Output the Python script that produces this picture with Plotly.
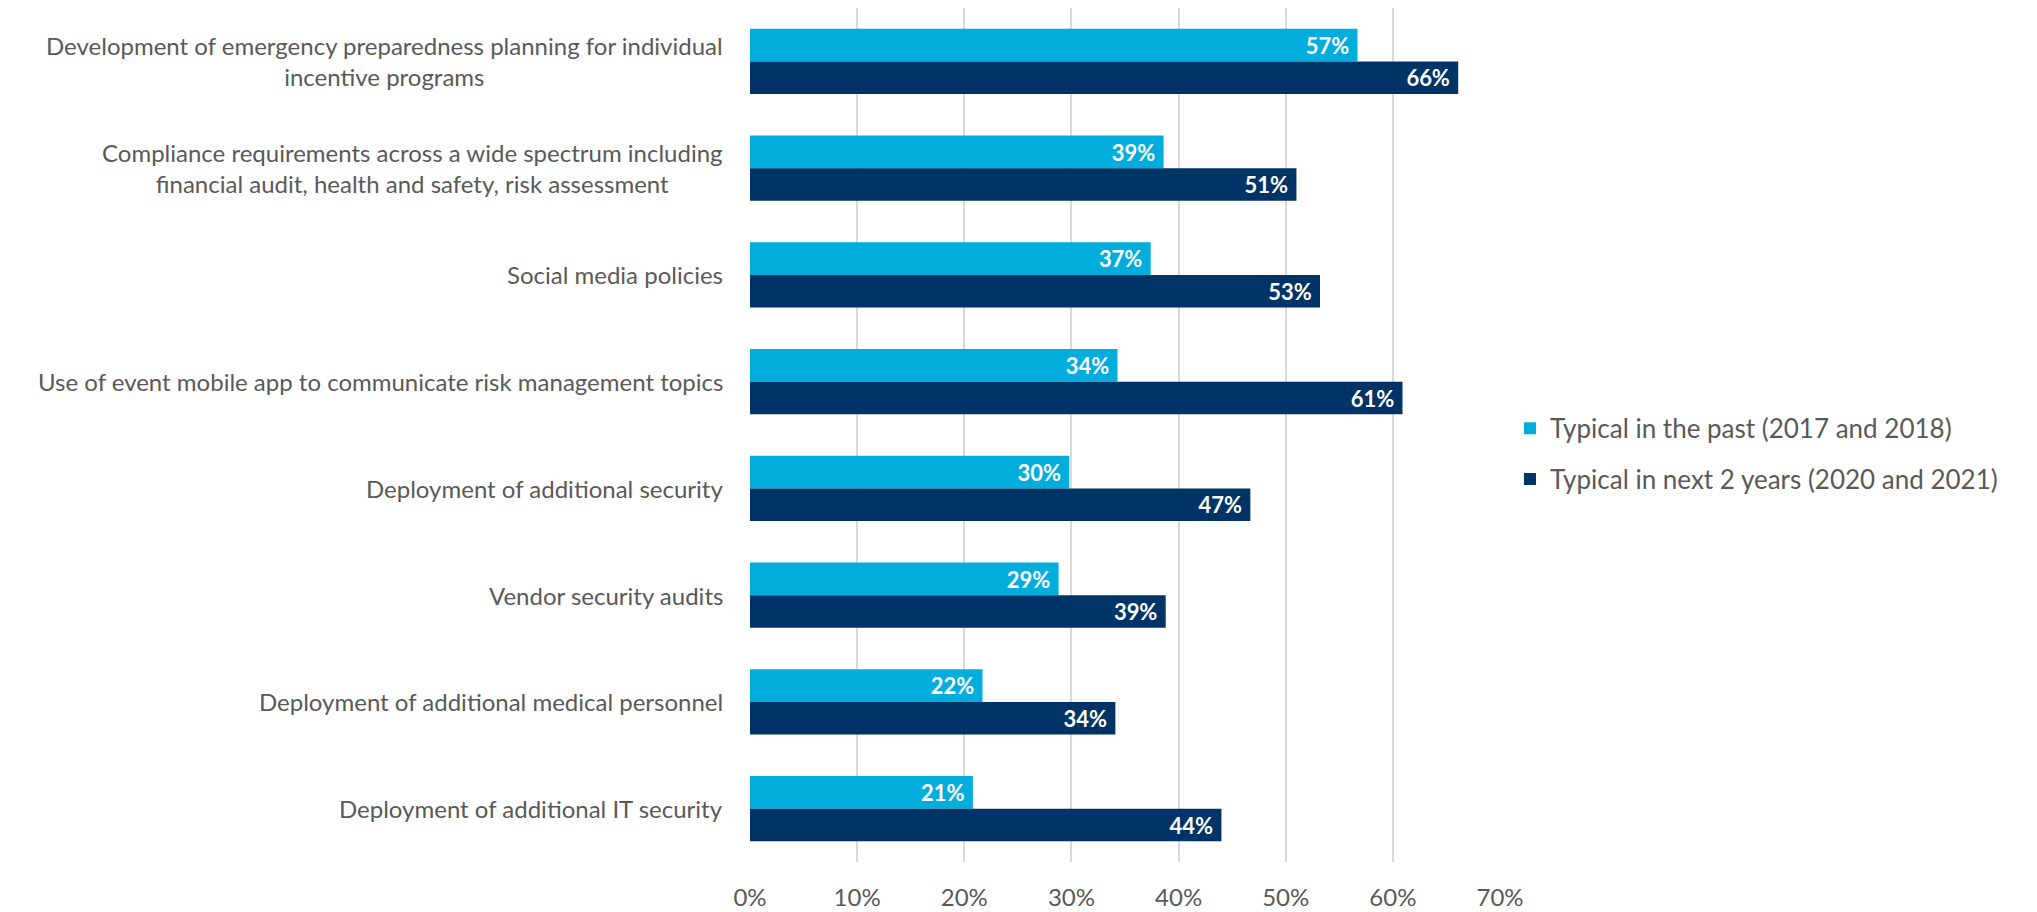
import plotly.graph_objects as go

categories = [
    "Development of emergency preparedness planning for individual<br>incentive programs",
    "Compliance requirements across a wide spectrum including<br>financial audit, health and safety, risk assessment",
    "Social media policies",
    "Use of event mobile app to communicate risk management topics",
    "Deployment of additional security",
    "Vendor security audits",
    "Deployment of additional medical personnel",
    "Deployment of additional IT security",
]
past = [56.7, 38.6, 37.4, 34.3, 29.8, 28.8, 21.7, 20.8]
nxt = [66.1, 51.0, 53.2, 60.9, 46.7, 38.8, 34.1, 44.0]
series_names = ["Typical in the past (2017 and 2018)", "Typical in next 2 years (2020 and 2021)"]
colors = ["#00ADDC", "#003366"]
ticks = [0, 10, 20, 30, 40, 50, 60, 70]

FONT = "Lato"
GREY = "#595959"

fig = go.Figure()
for i, (name, vals, col) in enumerate(zip(series_names, [past, nxt], colors)):
    fig.add_trace(go.Bar(
        y=categories, x=vals, name=name, orientation="h", legendgroup=f"g{i}",
        marker=dict(color=col, line=dict(width=0)),
        texttemplate="%{x:.0f}%\u00a0", textposition="inside", insidetextanchor="end",
        textfont=dict(family=FONT, size=24, color="white", weight="bold"),
        hoverinfo="skip",
    ))

for c in categories:
    fig.add_annotation(
        x=0, xref="paper", xshift=-25, y=c, yref="y",
        text=c, showarrow=False, xanchor="right", align="center",
        font=dict(family=FONT, size=24, color=GREY),
    )

fig.update_layout(
    width=2037, height=912,
    margin=dict(l=742, r=545, t=0, b=58),
    paper_bgcolor="white", plot_bgcolor="white",
    barmode="group", bargap=0.39, bargroupgap=0,
    font=dict(family=FONT, size=24, color=GREY),
    showlegend=True,
    legend=dict(x=1.0133, xanchor="left", y=0.478, yanchor="middle",
                font=dict(family=FONT, size=26, color=GREY),
                traceorder="grouped", tracegroupgap=14, bgcolor="rgba(0,0,0,0)"),
    xaxis=dict(range=[0, 70], tickvals=ticks, ticktext=[f"{t}%" for t in ticks],
               showgrid=True, gridcolor="#D9D9D9", gridwidth=2,
               zeroline=False, showline=False, ticks="",
               tickfont=dict(family=FONT, size=24, color=GREY), ticklabelstandoff=19),
    yaxis=dict(autorange="reversed", showticklabels=False, showgrid=False,
               zeroline=False, showline=False, ticks=""),
)

fig.write_html("out.html")
